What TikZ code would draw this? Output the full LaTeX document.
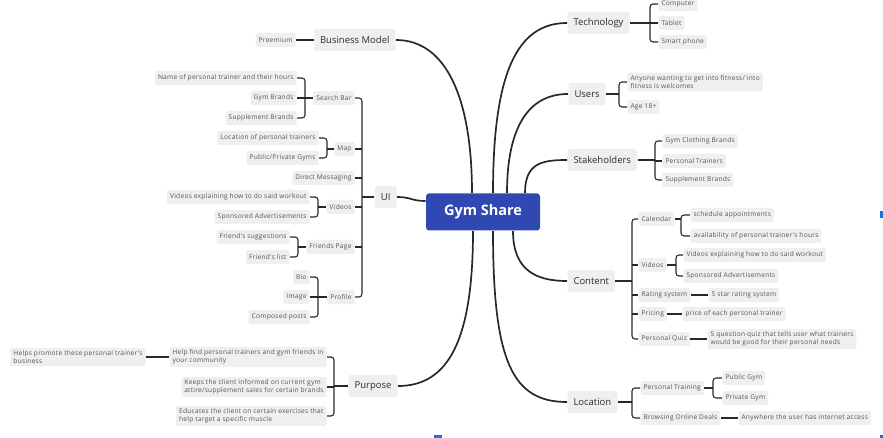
\documentclass[tikz,border=0pt]{standalone}
\usepackage{fontspec}
\setmainfont{Open Sans}
\newfontfamily\subfont[LetterSpace=4]{Open Sans}
\definecolor{gsblue}{RGB}{47,72,178}
\definecolor{boxgray}{RGB}{239,239,239}
\definecolor{txtdark}{RGB}{45,45,45}
\definecolor{txtgray}{RGB}{85,85,85}
\definecolor{linedark}{RGB}{40,40,40}
\definecolor{markblue}{RGB}{30,110,230}
\begin{document}
\begin{tikzpicture}[x=1pt,y=-1pt,
  every node/.style={outer sep=0.5pt},
  central/.style={fill=gsblue, text=white, font=\fontsize{14.5}{16}\selectfont\bfseries, rounded corners=3pt, minimum width=114pt, minimum height=37pt, inner sep=0pt},
  topic/.style={fill=boxgray, text=txtdark, font=\fontsize{9.5}{11}\selectfont, rounded corners=2pt, inner xsep=6pt, inner ysep=0pt, minimum height=22pt},
  sub/.style={fill=boxgray, text=txtgray, font=\subfont\fontsize{6.6}{8.4}\selectfont, rounded corners=1.5pt, inner xsep=3pt, inner ysep=2.5pt, minimum height=14pt, align=left},
  mainline/.style={draw=linedark, line width=1.7pt},
  br/.style={draw=linedark, line width=1.1pt, rounded corners=3pt},
]
\useasboundingbox (0,0) rectangle (883,438);

% central
\node[central] (gs) at (483,212) {Gym Share};

% ---------------- left side ----------------
\node[topic, anchor=east] (bm) at (396,40) {Business Model};
\node[sub, anchor=east] (pre) at (296,40) {Preemium};
\draw[br] (pre.east) -- (bm.west);

\node[topic, anchor=east] (ui) at (397,197) {UI};
\node[sub, anchor=east] (sb) at (355,98) {Search Bar};
\node[sub, anchor=east] (map) at (355,149) {Map};
\node[sub, anchor=east] (dm) at (355,178) {Direct Messaging};
\node[sub, anchor=east] (vid) at (355,207) {Videos};
\node[sub, anchor=east] (fp) at (355,247) {Friends Page};
\node[sub, anchor=east] (pro) at (355,297) {Profile};
\coordinate (bUI) at (362,0);
\draw[br] (sb.east) -- (sb.east -| bUI) -- (pro.east -| bUI) -- (pro.east);
\foreach \n in {map,dm,vid,fp} \draw[br] (\n.east) -- (\n.east -| bUI);
\draw[br] (ui.west) -- (ui.west -| bUI);

% search bar
\node[sub, anchor=east] (sb1) at (297,78) {Name of personal trainer and their hours};
\node[sub, anchor=east] (sb2) at (297,98) {Gym Brands};
\node[sub, anchor=east] (sb3) at (297,118) {Supplement Brands};
\coordinate (bSB) at (305,0);
\draw[br] (sb1.east) -- (sb1.east -| bSB) -- (sb3.east -| bSB) -- (sb3.east);
\draw[br] (sb2.east) -- (sb2.east -| bSB);
\draw[br] (sb.west) -- (sb.west -| bSB);

% map
\node[sub, anchor=east] (map1) at (319,138) {Location of personal trainers};
\node[sub, anchor=east] (map2) at (319,158) {Public/Private Gyms};
\coordinate (bMap) at (327,0);
\draw[br] (map1.east) -- (map1.east -| bMap) -- (map2.east -| bMap) -- (map2.east);
\draw[br] (map.west) -- (map.west -| bMap);

% videos
\node[sub, anchor=east] (vid1) at (310,197) {Videos explaining how to do said workout};
\node[sub, anchor=east] (vid2) at (310,217) {Sponsored Advertisements};
\coordinate (bVid) at (318,0);
\draw[br] (vid1.east) -- (vid1.east -| bVid) -- (vid2.east -| bVid) -- (vid2.east);
\draw[br] (vid.west) -- (vid.west -| bVid);

% friends page
\node[sub, anchor=east] (fp1) at (290,237) {Friend's suggestions};
\node[sub, anchor=east] (fp2) at (290,257) {Friend's list};
\coordinate (bFP) at (298,0);
\draw[br] (fp1.east) -- (fp1.east -| bFP) -- (fp2.east -| bFP) -- (fp2.east);
\draw[br] (fp.west) -- (fp.west -| bFP);

% profile
\node[sub, anchor=east] (pro1) at (310,277) {Bio};
\node[sub, anchor=east] (pro2) at (310,297) {Image};
\node[sub, anchor=east] (pro3) at (310,317) {Composed posts};
\coordinate (bPro) at (318,0);
\draw[br] (pro1.east) -- (pro1.east -| bPro) -- (pro3.east -| bPro) -- (pro3.east);
\draw[br] (pro2.east) -- (pro2.east -| bPro);
\draw[br] (pro.west) -- (pro.west -| bPro);

% purpose
\node[topic, anchor=east] (pur) at (398,386) {Purpose};
\node[sub, anchor=east] (pur1) at (327,357) {Help find personal trainers and gym friends in\\your community};
\node[sub, anchor=east] (pur2) at (327,387) {Keeps the client informed on current gym\\attire/supplement sales for certain brands};
\node[sub, anchor=east] (pur3) at (327,416) {Educates the client on certain exercises that\\help target a specific muscle};
\node[sub, anchor=east] (pur0) at (146,357) {Helps promote these personal trainer's\\business};
\coordinate (bPur) at (334,0);
\draw[br] (pur1.east) -- (pur1.east -| bPur) -- (pur3.east -| bPur) -- (pur3.east);
\draw[br] (pur2.east) -- (pur2.east -| bPur);
\draw[br] (pur.west) -- (pur.west -| bPur);
\draw[br] (pur1.west) -- (pur0.east);

% ---------------- right side ----------------
\node[topic, anchor=west] (tech) at (567,23) {Technology};
\node[sub, anchor=west] (tech1) at (658,4) {Computer};
\node[sub, anchor=west] (tech2) at (658,23) {Tablet};
\node[sub, anchor=west] (tech3) at (658,42) {Smart phone};
\coordinate (bTech) at (650,0);
\draw[br] (tech1.west) -- (tech1.west -| bTech) -- (tech3.west -| bTech) -- (tech3.west);
\draw[br] (tech2.west) -- (tech2.west -| bTech);
\draw[br] (tech.east) -- (tech.east -| bTech);

\node[topic, anchor=west] (us) at (568,94) {Users};
\node[sub, anchor=west] (us1) at (627,82) {Anyone wanting to get into fitness/ into\\fitness is welcomes};
\node[sub, anchor=west] (us2) at (627,107) {Age 18+};
\coordinate (bUs) at (619,0);
\draw[br] (us1.west) -- (us1.west -| bUs) -- (us2.west -| bUs) -- (us2.west);
\draw[br] (us.east) -- (us.east -| bUs);

\node[topic, anchor=west] (sh) at (567,160) {Stakeholders};
\node[sub, anchor=west] (sh1) at (662,141) {Gym Clothing Brands};
\node[sub, anchor=west] (sh2) at (662,161) {Personal Trainers};
\node[sub, anchor=west] (sh3) at (662,180) {Supplement Brands};
\coordinate (bSh) at (655,0);
\draw[br] (sh1.west) -- (sh1.west -| bSh) -- (sh3.west -| bSh) -- (sh3.west);
\draw[br] (sh2.west) -- (sh2.west -| bSh);
\draw[br] (sh.east) -- (sh.east -| bSh);

\node[topic, anchor=west] (con) at (567,281) {Content};
\node[sub, anchor=west] (cal) at (638,219) {Calendar};
\node[sub, anchor=west] (cvid) at (638,265) {Videos};
\node[sub, anchor=west] (rat) at (638,295) {Rating system};
\node[sub, anchor=west] (pri) at (638,314) {Pricing};
\node[sub, anchor=west] (quiz) at (638,339) {Personal Quiz};
\coordinate (bCon) at (632,0);
\draw[br] (cal.west) -- (cal.west -| bCon) -- (quiz.west -| bCon) -- (quiz.west);
\foreach \n in {cvid,rat,pri} \draw[br] (\n.west) -- (\n.west -| bCon);
\draw[br] (con.east) -- (con.east -| bCon);

\node[sub, anchor=west] (cal1) at (690,215) {schedule appointments};
\node[sub, anchor=west] (cal2) at (690,236) {availability of personal trainer's hours};
\coordinate (bCal) at (681,0);
\draw[br] (cal1.west) -- (cal1.west -| bCal) -- (cal2.west -| bCal) -- (cal2.west);
\draw[br] (cal.east) -- (cal.east -| bCal);

\node[sub, anchor=west] (cvid1) at (683,255) {Videos explaining how to do said workout};
\node[sub, anchor=west] (cvid2) at (683,276) {Sponsored Advertisements};
\coordinate (bCvid) at (676,0);
\draw[br] (cvid1.west) -- (cvid1.west -| bCvid) -- (cvid2.west -| bCvid) -- (cvid2.west);
\draw[br] (cvid.east) -- (cvid.east -| bCvid);

\node[sub, anchor=west] (rat1) at (708,295) {5 star rating system};
\draw[br] (rat.east) -- (rat1.west);
\node[sub, anchor=west] (pri1) at (682,314) {price of each personal trainer};
\draw[br] (pri.east) -- (pri1.west);
\node[sub, anchor=west] (quiz1) at (707,339) {5 question quiz that tells user what trainers\\would be good for their personal needs};
\draw[br] (quiz.east) -- (quiz1.west);

\node[topic, anchor=west] (loc) at (567,402) {Location};
\node[sub, anchor=west] (pt) at (640,388) {Personal Training};
\node[sub, anchor=west] (bod) at (640,418) {Browsing Online Deals};
\coordinate (bLoc) at (632,0);
\draw[br] (pt.west) -- (pt.west -| bLoc) -- (bod.west -| bLoc) -- (bod.west);
\draw[br] (loc.east) -- (loc.east -| bLoc);
\node[sub, anchor=west] (pt1) at (722,378) {Public Gym};
\node[sub, anchor=west] (pt2) at (722,398) {Private Gym};
\coordinate (bPt) at (713,0);
\draw[br] (pt1.west) -- (pt1.west -| bPt) -- (pt2.west -| bPt) -- (pt2.west);
\draw[br] (pt.east) -- (pt.east -| bPt);
\node[sub, anchor=west] (bod1) at (738,418) {Anywhere the user has internet access};
\draw[br] (bod.east) -- (bod1.west);

% ---------------- main curves ----------------
\draw[mainline] ([xshift=-11pt]gs.north) .. controls +(0,-95) and +(50,0) .. (bm.east);
\draw[mainline] ([xshift=10pt]gs.north) .. controls +(0,-120) and +(-50,0) .. (tech.west);
\draw[mainline] ([xshift=24pt]gs.north) .. controls +(0,-65) and +(-40,0) .. (us.west);
\draw[mainline] ([xshift=42pt]gs.north) .. controls +(0,-30) and +(-25,0) .. (sh.west);
\draw[mainline] ([yshift=11pt]gs.west) .. controls +(-14,0) and +(14,0) .. (ui.east);
\draw[mainline] ([xshift=-10pt]gs.south) .. controls +(0,110) and +(50,0) .. (pur.east);
\draw[mainline] ([xshift=10pt]gs.south) .. controls +(0,130) and +(-55,0) .. (loc.west);
\draw[mainline] ([xshift=30pt]gs.south) .. controls +(0,40) and +(-30,0) .. (con.west);

% selection marks
\fill[markblue] (880,211) rectangle (883,218);
\fill[markblue] (434,435) rectangle (442,438);
\fill[markblue] (880,435) rectangle (883,438);
\end{tikzpicture}
\end{document}
